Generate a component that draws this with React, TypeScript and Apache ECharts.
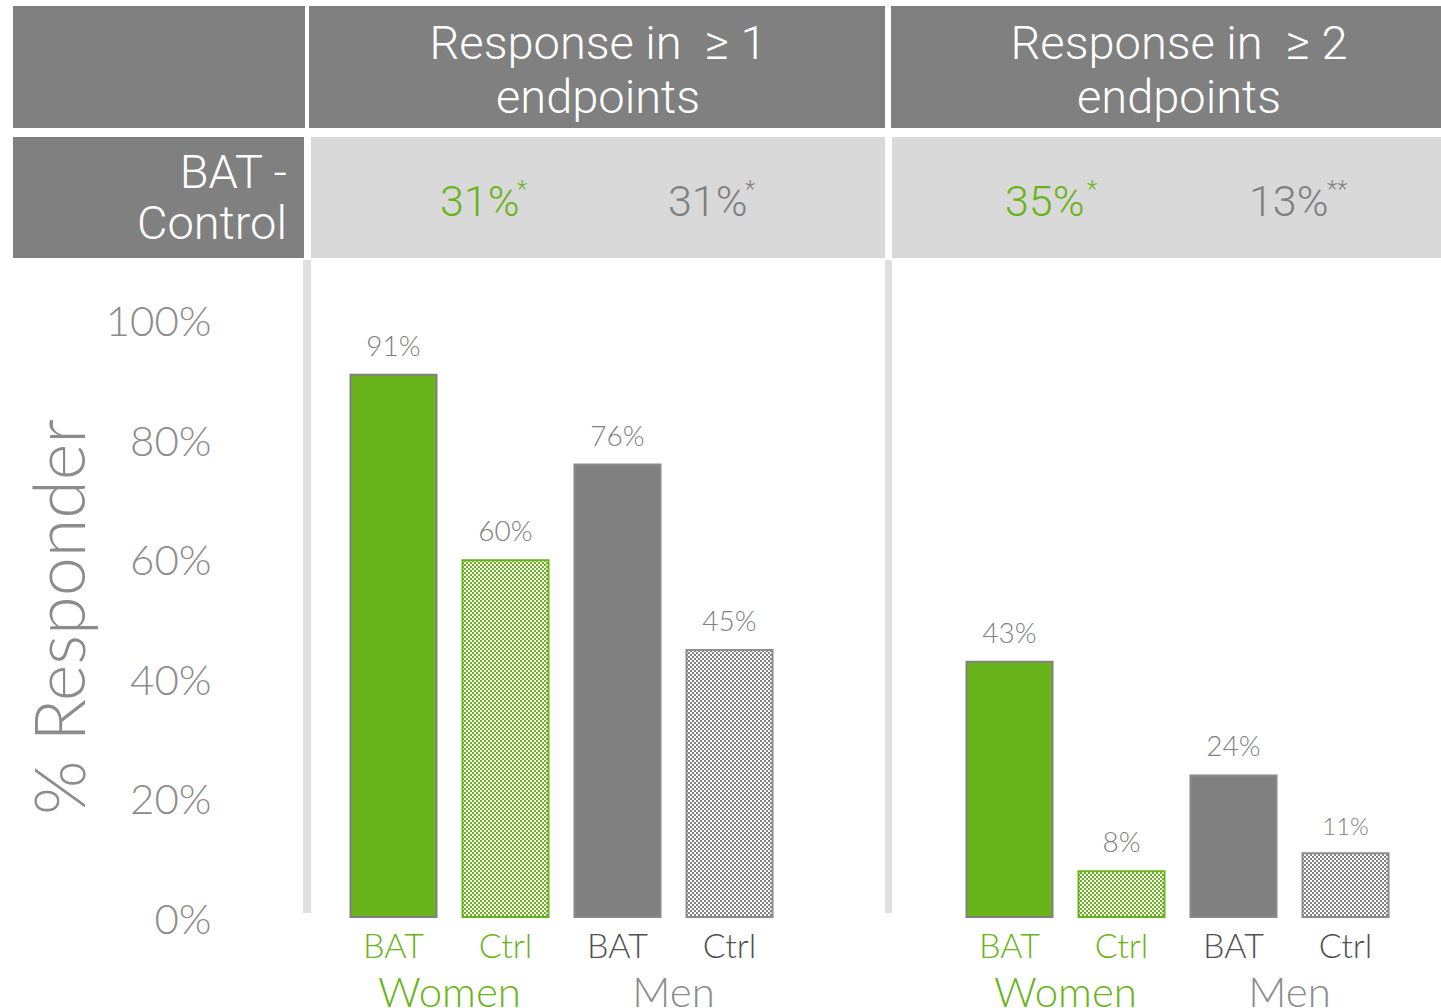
import React, { useEffect, useRef } from 'react';
import * as echarts from 'echarts';

// ---------- data ----------
const categories = ['BAT', 'Ctrl', 'BAT', 'Ctrl'];
const groups = ['Women', 'Men'];
const panelTitles = ['Response in  \u2265 1\nendpoints', 'Response in  \u2265 2\nendpoints'];
const rowLabel = 'BAT -\nControl';
const yAxisTitle = '% Responder';
const responseOne = [91, 60, 76, 45];
const responseTwo = [43, 8, 24, 11];
const diffValues = ['31%', '31%', '35%', '13%'];
const diffMarks = ['*', '*', '*', '**'];
const yMin = 0;
const yMax = 100;
const yStep = 20;

// ---------- styles ----------
const GREEN = '#69b41b';
const GRAY = '#808080';
const LABEL_GRAY = '#8c8c8c';
const DARK = '#505050';
const LIGHT_CELL = '#d9d9d9';
const SEP = '#e0e0e0';
const FONT = 'Lato, "Open Sans", sans-serif';
const HFONT = 'Roboto, "Open Sans", sans-serif';

function makePattern(color: string) {
  const c = document.createElement('canvas');
  c.width = 4;
  c.height = 4;
  const ctx = c.getContext('2d')!;
  ctx.fillStyle = '#ffffff';
  ctx.fillRect(0, 0, 4, 4);
  ctx.fillStyle = color;
  ctx.fillRect(0, 0, 2, 2);
  ctx.fillRect(2, 2, 2, 2);
  return c;
}

export default function App() {
  const ref = useRef<HTMLDivElement>(null);

  useEffect(() => {
    if (!ref.current) return;
    const chart = echarts.init(ref.current, undefined, { renderer: 'svg' });

    const greenPat = makePattern(GREEN);
    const grayPat = makePattern(GRAY);
    const itemStyles = [
      { color: GREEN, borderColor: GRAY, borderWidth: 2 },
      { color: { image: greenPat, repeat: 'repeat' }, borderColor: GREEN, borderWidth: 2 },
      { color: GRAY, borderColor: '#8a8a8a', borderWidth: 2 },
      { color: { image: grayPat, repeat: 'repeat' }, borderColor: LABEL_GRAY, borderWidth: 2 },
    ];
    const catColors = [GREEN, GREEN, DARK, DARK];
    const groupColors = [GREEN, LABEL_GRAY];

    const buildData = (vals: number[]) =>
      vals.map((v, i) => ({
        value: v,
        itemStyle: itemStyles[i],
        label: v < 12 && v > 9 ? { fontSize: 24 } : undefined,
      }));

    const catAxis = (gridIndex: number) => ({
      type: 'category',
      gridIndex,
      data: categories.map((c, i) => ({ value: c, textStyle: { color: catColors[i] } })),
      axisLine: { show: false },
      axisTick: { show: false },
      axisLabel: { fontSize: 34, fontFamily: FONT, fontWeight: 300, margin: 9, interval: 0 },
    });
    const groupAxis = (gridIndex: number) => ({
      type: 'category',
      gridIndex,
      position: 'bottom',
      data: groups.map((g, i) => ({ value: g, textStyle: { color: groupColors[i] } })),
      axisLine: { show: false },
      axisTick: { show: false },
      axisLabel: {
        fontSize: 42,
        lineHeight: 32,
        fontFamily: FONT,
        fontWeight: 300,
        margin: 57,
        interval: 0,
      },
    });
    const valAxis = (gridIndex: number, showLabels: boolean) => ({
      type: 'value',
      gridIndex,
      min: yMin,
      max: yMax,
      interval: yStep,
      axisLine: { show: false },
      axisTick: { show: false },
      splitLine: { show: false },
      axisLabel: {
        show: showLabels,
        formatter: '{value}%',
        color: LABEL_GRAY,
        fontSize: 42,
        fontFamily: FONT,
        fontWeight: 300,
        margin: 126,
      },
    });

    const seriesLabel = {
      show: true,
      position: 'top',
      distance: 15,
      formatter: '{c}%',
      color: GRAY,
      fontSize: 28,
      fontFamily: FONT,
      fontWeight: 300,
    };

    const diffX = [440, 668, 1005, 1249];
    const diffColors = [GREEN, GRAY, GREEN, GRAY];
    const diffTexts: any[] = [];
    diffValues.forEach((d, i) => {
      diffTexts.push({
        type: 'text',
        x: diffX[i],
        y: 201,
        style: {
          text: d,
          fill: diffColors[i],
          font: `300 43px ${HFONT}`,
          align: 'left',
          verticalAlign: 'middle',
        },
      });
    });
    const markX = [517, 745, 1087, 1327];
    diffMarks.forEach((m, i) => {
      diffTexts.push({
        type: 'text',
        x: markX[i],
        y: 189,
        style: {
          text: m,
          fill: diffColors[i],
          font: `300 24px ${HFONT}`,
          align: 'left',
          verticalAlign: 'middle',
        },
      });
    });

    const option: any = {
      animation: false,
      backgroundColor: '#ffffff',
      grid: [
        { left: 337.5, width: 448, top: 320, height: 598, outerBoundsMode: 'none', containLabel: false },
        { left: 953.5, width: 448, top: 320, height: 598, outerBoundsMode: 'none', containLabel: false },
      ],
      xAxis: [catAxis(0), groupAxis(0), catAxis(1), groupAxis(1)],
      yAxis: [valAxis(0, true), valAxis(1, false)],
      series: [
        {
          type: 'bar',
          xAxisIndex: 0,
          yAxisIndex: 0,
          barWidth: 88,
          data: buildData(responseOne),
          label: seriesLabel,
        },
        {
          type: 'bar',
          xAxisIndex: 2,
          yAxisIndex: 1,
          barWidth: 88,
          data: buildData(responseTwo),
          label: seriesLabel,
        },
      ],
      graphic: [
        { type: 'rect', shape: { x: 13, y: 6, width: 292, height: 122 }, style: { fill: GRAY } },
        { type: 'rect', shape: { x: 309, y: 6, width: 576, height: 122 }, style: { fill: GRAY } },
        { type: 'rect', shape: { x: 891, y: 6, width: 550, height: 122 }, style: { fill: GRAY } },
        { type: 'rect', shape: { x: 13, y: 137, width: 291, height: 121 }, style: { fill: GRAY } },
        { type: 'rect', shape: { x: 311, y: 137, width: 574, height: 121 }, style: { fill: LIGHT_CELL } },
        { type: 'rect', shape: { x: 892, y: 137, width: 549, height: 121 }, style: { fill: LIGHT_CELL } },
        { type: 'rect', shape: { x: 303, y: 260, width: 8, height: 653 }, style: { fill: SEP } },
        { type: 'rect', shape: { x: 885, y: 260, width: 7, height: 653 }, style: { fill: SEP } },
        {
          type: 'text',
          x: 598,
          y: 69,
          style: {
            text: panelTitles[0],
            fill: '#ffffff',
            font: `300 47px ${HFONT}`,
            lineHeight: 54,
            align: 'center',
            verticalAlign: 'middle',
          },
        },
        {
          type: 'text',
          x: 1179,
          y: 69,
          style: {
            text: panelTitles[1],
            fill: '#ffffff',
            font: `300 47px ${HFONT}`,
            lineHeight: 54,
            align: 'center',
            verticalAlign: 'middle',
          },
        },
        {
          type: 'text',
          x: 287,
          y: 197,
          style: {
            text: rowLabel,
            fill: '#ffffff',
            font: `300 47px ${HFONT}`,
            lineHeight: 51,
            align: 'right',
            verticalAlign: 'middle',
          },
        },
        ...diffTexts,
        {
          type: 'text',
          x: 58,
          y: 617,
          rotation: Math.PI / 2,
          style: {
            text: yAxisTitle,
            fill: LABEL_GRAY,
            font: `300 70px ${FONT}`,
            align: 'center',
            verticalAlign: 'middle',
          },
        },
      ],
    };

    chart.setOption(option);
    return () => chart.dispose();
  }, []);

  return (
    <div
      ref={ref}
      style={{ position: 'absolute', left: 0, top: 0, width: 1441, height: 1008 }}
    />
  );
}
